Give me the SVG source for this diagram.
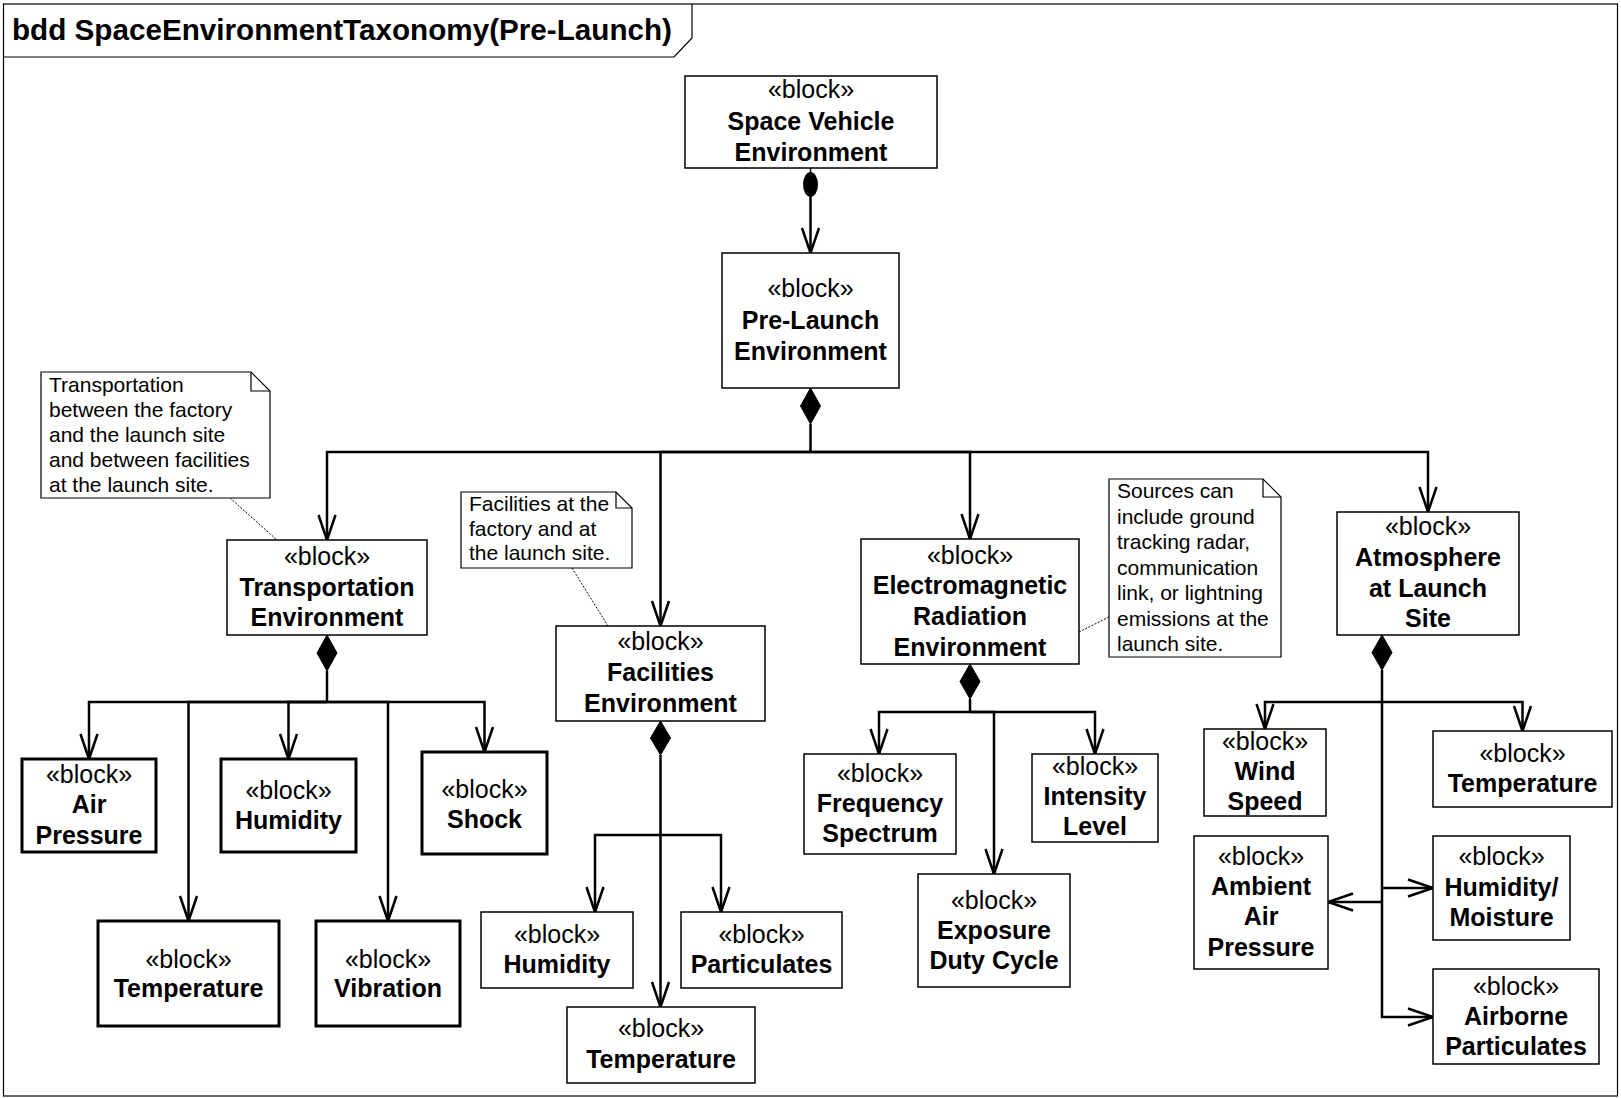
<svg xmlns="http://www.w3.org/2000/svg" width="1621" height="1098" viewBox="0 0 1621 1098">
<style>
.bg{fill:#fff}
.frame{fill:none;stroke:#000;stroke-width:1.2}
.title{font-family:"Liberation Sans",Arial,sans-serif;font-size:30px;font-weight:bold;fill:#000}
.blk{fill:#fff;stroke:#000;stroke-width:1.5}
.thick{stroke-width:3}
.t{font-family:"Liberation Sans",Arial,sans-serif;font-size:25px;text-anchor:middle;fill:#000}
.b{font-weight:bold}
.note{fill:#fff;stroke:#000;stroke-width:1.2}
.fold{fill:none;stroke:#000;stroke-width:1.2}
.nt{font-family:"Liberation Sans",Arial,sans-serif;font-size:21px;fill:#000}
.anc{fill:none;stroke:#000;stroke-width:1;stroke-dasharray:2,1.5}
.c{fill:none;stroke:#000;stroke-width:2.5}
.ca{fill:none;stroke:#000;stroke-width:2.5;marker-end:url(#open)}
.dia{fill:#000;stroke:#000;stroke-width:1}
</style>
<defs>
<marker id="open" markerUnits="userSpaceOnUse" viewBox="-30 -12 34 24" refX="0" refY="0" markerWidth="34" markerHeight="24" orient="auto" overflow="visible">
<path d="M-25,-8.5 L0,0 L-25,8.5" fill="none" stroke="#000" stroke-width="2.5"/>
</marker>
</defs>
<rect class="bg" x="0" y="0" width="1621" height="1098"/>
<g id="frame">
<rect class="frame" x="3.5" y="4" width="1614" height="1092"/>
<path class="frame" d="M3.5,57 H674 L692,38 V4"/>
<text class="title" x="12" y="40" textLength="660" lengthAdjust="spacingAndGlyphs">bdd SpaceEnvironmentTaxonomy(Pre-Launch)</text>
</g>
<g id="connectors">
<line x1="810.5" y1="168" x2="810.5" y2="173" stroke="#000" stroke-width="1.5"/>
<ellipse cx="810.5" cy="184.5" rx="7.5" ry="12.5" fill="#000"/>
<path class="ca" d="M810.5,197 V253"/>
<polygon class="dia" points="810.5,388 820.5,406 810.5,424 800.5,406"/>
<path class="c" d="M810.5,424 V452"/>
<path class="ca" d="M810.5,452 H327 V540"/>
<path class="ca" d="M810.5,452 H660.5 V626"/>
<path class="ca" d="M810.5,452 H970 V539"/>
<path class="ca" d="M810.5,452 H1428 V512"/>
<polygon class="dia" points="327,635 337,653 327,671 317,653"/>
<path class="c" d="M327,671 V702"/>
<path class="ca" d="M327,702 H89 V759"/>
<path class="ca" d="M327,702 H188.5 V921"/>
<path class="ca" d="M327,702 H288.5 V759"/>
<path class="ca" d="M327,702 H388 V921"/>
<path class="ca" d="M327,702 H484.5 V752"/>
<polygon class="dia" points="660.5,721 670.5,738 660.5,755 650.5,738"/>
<path class="ca" d="M660.5,755 V1007"/>
<path class="ca" d="M660.5,835 H595 V912"/>
<path class="ca" d="M660.5,835 H721 V912"/>
<polygon class="dia" points="970,664 980,681.5 970,699 960,681.5"/>
<path class="c" d="M970,699 V712"/>
<path class="ca" d="M970,712 H879 V754"/>
<path class="ca" d="M970,712 H994 V874"/>
<path class="ca" d="M970,712 H1095 V754"/>
<polygon class="dia" points="1382,635 1392,652.5 1382,670 1372,652.5"/>
<path class="ca" d="M1382,702 H1265 V729"/>
<path class="ca" d="M1382,702 H1522.5 V731"/>
<path class="ca" d="M1382,670 V1017 H1433"/>
<path class="ca" d="M1382,888 H1433"/>
<path class="ca" d="M1382,902 H1328"/>
<line class="anc" x1="230" y1="498" x2="277" y2="540"/>
<line class="anc" x1="572" y1="568" x2="608" y2="626"/>
<line class="anc" x1="1079" y1="632" x2="1109" y2="617"/>
</g>
<g id="note-transportation">
<path class="note" d="M41,372 H251 L270,391 V498 H41 Z"/>
<path class="fold" d="M251,372 V391 H270"/>
<text class="nt" x="49" y="392">Transportation</text>
<text class="nt" x="49" y="417">between the factory</text>
<text class="nt" x="49" y="442">and the launch site</text>
<text class="nt" x="49" y="467">and between facilities</text>
<text class="nt" x="49" y="492">at the launch site.</text>
</g>
<g id="note-facilities">
<path class="note" d="M461,492 H616 L632,508 V568 H461 Z"/>
<path class="fold" d="M616,492 V508 H632"/>
<text class="nt" x="469" y="511">Facilities at the</text>
<text class="nt" x="469" y="535.5">factory and at</text>
<text class="nt" x="469" y="560">the launch site.</text>
</g>
<g id="note-em">
<path class="note" d="M1109,479 H1263 L1281,497 V657 H1109 Z"/>
<path class="fold" d="M1263,479 V497 H1281"/>
<text class="nt" x="1117" y="498">Sources can</text>
<text class="nt" x="1117" y="523.5">include ground</text>
<text class="nt" x="1117" y="549">tracking radar,</text>
<text class="nt" x="1117" y="574.5">communication</text>
<text class="nt" x="1117" y="600">link, or lightning</text>
<text class="nt" x="1117" y="625.5">emissions at the</text>
<text class="nt" x="1117" y="651">launch site.</text>
</g>
<g id="space-vehicle-environment">
<rect class="blk" x="685" y="76" width="252" height="92"/>
<text class="t" x="811" y="98">«block»</text>
<text class="t b" x="811" y="130">Space Vehicle</text>
<text class="t b" x="811" y="161">Environment</text>
</g>
<g id="pre-launch-environment">
<rect class="blk" x="722" y="253" width="177" height="135"/>
<text class="t" x="810.5" y="297">«block»</text>
<text class="t b" x="810.5" y="328.5">Pre-Launch</text>
<text class="t b" x="810.5" y="359.5">Environment</text>
</g>
<g id="transportation-environment">
<rect class="blk" x="227" y="540" width="200" height="95"/>
<text class="t" x="327" y="565">«block»</text>
<text class="t b" x="327" y="595.5">Transportation</text>
<text class="t b" x="327" y="626">Environment</text>
</g>
<g id="facilities-environment">
<rect class="blk" x="556" y="626" width="209" height="95"/>
<text class="t" x="660.5" y="650">«block»</text>
<text class="t b" x="660.5" y="681">Facilities</text>
<text class="t b" x="660.5" y="712">Environment</text>
</g>
<g id="em-radiation-environment">
<rect class="blk" x="861" y="539" width="218" height="125"/>
<text class="t" x="970" y="563.5">«block»</text>
<text class="t b" x="970" y="594">Electromagnetic</text>
<text class="t b" x="970" y="625">Radiation</text>
<text class="t b" x="970" y="656">Environment</text>
</g>
<g id="atmosphere-at-launch-site">
<rect class="blk" x="1337" y="512" width="182" height="123"/>
<text class="t" x="1428" y="535">«block»</text>
<text class="t b" x="1428" y="566">Atmosphere</text>
<text class="t b" x="1428" y="596.5">at Launch</text>
<text class="t b" x="1428" y="627">Site</text>
</g>
<g id="air-pressure">
<rect class="blk thick" x="22" y="759" width="134" height="93"/>
<text class="t" x="89" y="782.5">«block»</text>
<text class="t b" x="89" y="813">Air</text>
<text class="t b" x="89" y="844">Pressure</text>
</g>
<g id="transport-humidity">
<rect class="blk thick" x="221" y="759" width="135" height="93"/>
<text class="t" x="288.5" y="799">«block»</text>
<text class="t b" x="288.5" y="829">Humidity</text>
</g>
<g id="shock">
<rect class="blk thick" x="422" y="752" width="125" height="102"/>
<text class="t" x="484.5" y="798">«block»</text>
<text class="t b" x="484.5" y="828">Shock</text>
</g>
<g id="transport-temperature">
<rect class="blk thick" x="98" y="921" width="181" height="105"/>
<text class="t" x="188.5" y="967.5">«block»</text>
<text class="t b" x="188.5" y="997">Temperature</text>
</g>
<g id="vibration">
<rect class="blk thick" x="316" y="921" width="144" height="105"/>
<text class="t" x="388" y="967.5">«block»</text>
<text class="t b" x="388" y="997">Vibration</text>
</g>
<g id="facilities-humidity">
<rect class="blk" x="481" y="912" width="152" height="76"/>
<text class="t" x="557" y="942.5">«block»</text>
<text class="t b" x="557" y="972.5">Humidity</text>
</g>
<g id="facilities-particulates">
<rect class="blk" x="681" y="912" width="161" height="76"/>
<text class="t" x="761.5" y="942.5">«block»</text>
<text class="t b" x="761.5" y="972.5">Particulates</text>
</g>
<g id="facilities-temperature">
<rect class="blk" x="567" y="1007" width="188" height="76"/>
<text class="t" x="661" y="1037">«block»</text>
<text class="t b" x="661" y="1067.5">Temperature</text>
</g>
<g id="frequency-spectrum">
<rect class="blk" x="804" y="754" width="152" height="100"/>
<text class="t" x="880" y="781.5">«block»</text>
<text class="t b" x="880" y="812">Frequency</text>
<text class="t b" x="880" y="842">Spectrum</text>
</g>
<g id="intensity-level">
<rect class="blk" x="1032" y="754" width="126" height="88"/>
<text class="t" x="1095" y="774.5">«block»</text>
<text class="t b" x="1095" y="804.5">Intensity</text>
<text class="t b" x="1095" y="834.5">Level</text>
</g>
<g id="exposure-duty-cycle">
<rect class="blk" x="918" y="874" width="152" height="113"/>
<text class="t" x="994" y="908.5">«block»</text>
<text class="t b" x="994" y="939">Exposure</text>
<text class="t b" x="994" y="969">Duty Cycle</text>
</g>
<g id="wind-speed">
<rect class="blk" x="1204" y="729" width="122" height="87"/>
<text class="t" x="1265" y="749.5">«block»</text>
<text class="t b" x="1265" y="779.5">Wind</text>
<text class="t b" x="1265" y="809.5">Speed</text>
</g>
<g id="atmosphere-temperature">
<rect class="blk" x="1433" y="731" width="179" height="76"/>
<text class="t" x="1522.5" y="761.5">«block»</text>
<text class="t b" x="1522.5" y="791.5">Temperature</text>
</g>
<g id="ambient-air-pressure">
<rect class="blk" x="1194" y="836" width="134" height="133"/>
<text class="t" x="1261" y="864.5">«block»</text>
<text class="t b" x="1261" y="894.5">Ambient</text>
<text class="t b" x="1261" y="925">Air</text>
<text class="t b" x="1261" y="956">Pressure</text>
</g>
<g id="humidity-moisture">
<rect class="blk" x="1433" y="836" width="137" height="104"/>
<text class="t" x="1501.5" y="864.5">«block»</text>
<text class="t b" x="1501.5" y="895.5">Humidity/</text>
<text class="t b" x="1501.5" y="926">Moisture</text>
</g>
<g id="airborne-particulates">
<rect class="blk" x="1433" y="969" width="166" height="95"/>
<text class="t" x="1516" y="994.5">«block»</text>
<text class="t b" x="1516" y="1024.5">Airborne</text>
<text class="t b" x="1516" y="1054.5">Particulates</text>
</g>
</svg>
